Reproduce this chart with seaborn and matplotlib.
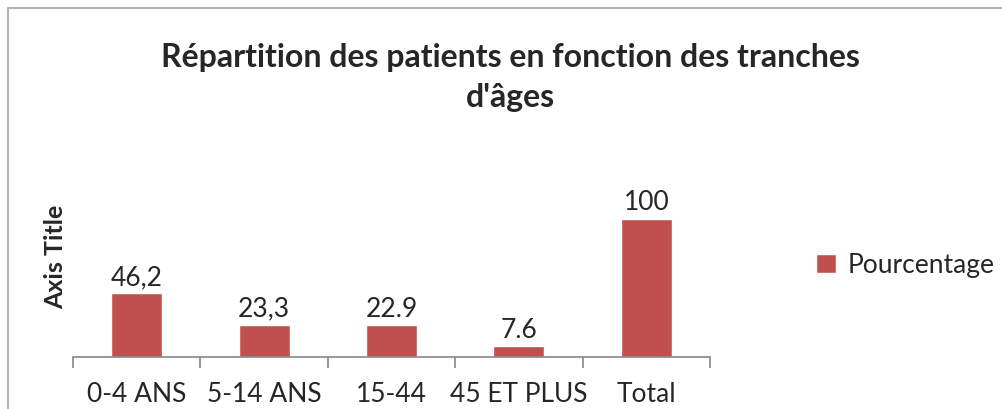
import numpy as np
import pandas as pd
import seaborn as sns
import matplotlib.pyplot as plt
from matplotlib.lines import Line2D

# données
categories = ["0-4 ANS", "5-14 ANS", "15-44", "45 ET PLUS", "Total"]
values = [46.2, 23.3, 22.9, 7.6, 100]
value_labels = ["46,2", "23,3", "22.9", "7.6", "100"]
series_name = "Pourcentage"

sns.set_theme(style="white")
plt.rcParams["font.family"] = ["Lato", "DejaVu Sans"]

BAR_COLOR = "#C0504D"
AXIS_GRAY = "#868686"
FS = 19

df = pd.DataFrame({"cat": categories, "val": values})

fig = plt.figure(figsize=(10.03, 4.10), dpi=100)
ax = fig.add_axes([73 / 1003, 52 / 410, 637 / 1003, 166 / 410])

sns.barplot(data=df, x="cat", y="val", color=BAR_COLOR, width=0.4,
            saturation=1, label=series_name, ax=ax)

ax.set_ylim(0, 120)
ax.set_xlim(-0.5, len(categories) - 0.5)
ax.bar_label(ax.containers[0], labels=value_labels, padding=3, fontsize=FS)

# axes: only the baseline, ticks between categories
for side in ["left", "right", "top"]:
    ax.spines[side].set_visible(False)
ax.spines["bottom"].set_color(AXIS_GRAY)
ax.spines["bottom"].set_linewidth(1.2)
ax.set_yticks([])
ax.set_xticks(range(len(categories)))
ax.set_xticklabels(categories, fontsize=FS)
ax.set_xticks(np.arange(-0.5, len(categories)), minor=True)
ax.tick_params(axis="x", which="major", length=0, pad=17)
ax.tick_params(axis="x", which="minor", length=8, width=1.2, color=AXIS_GRAY, bottom=True)
ax.set_xlabel("")
ax.set_ylabel("Axis Title", fontsize=18, fontweight="bold", va="center")
ax.yaxis.set_label_coords(-0.028, 0.61)

fig.suptitle("Répartition des patients en fonction des tranches\nd'âges",
             x=510 / 1003, y=1 - 43 / 410, va="top", fontsize=23, fontweight="bold",
             linespacing=1.45)

handles, labels = ax.get_legend_handles_labels()
ax.legend(handles, labels, loc="center left", bbox_to_anchor=(816 / 1003, 1 - 266 / 410),
          bbox_transform=fig.transFigure, frameon=False, fontsize=FS, borderpad=0,
          borderaxespad=0, handlelength=0.75, handleheight=0.75, handletextpad=0.45)

# chart frame (left + top)
fig.add_artist(Line2D([8 / 1003, 8 / 1003], [0, 1 - 9 / 410], color="#A6A6A6", lw=1.2,
                      transform=fig.transFigure))
fig.add_artist(Line2D([8 / 1003, 1], [1 - 9 / 410, 1 - 9 / 410], color="#A6A6A6", lw=1.2,
                      transform=fig.transFigure))

fig.savefig("out.png", dpi=100)
